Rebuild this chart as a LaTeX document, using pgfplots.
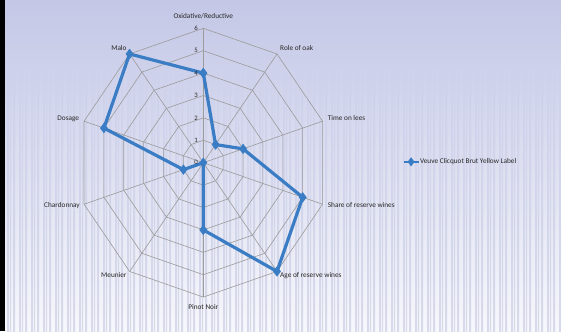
\documentclass[border=0pt]{standalone}
\usepackage{fontspec}
\setmainfont{Carlito}
\usepackage{pgfplots}
\pgfplotsset{compat=1.18}
\definecolor{bgtop}{RGB}{196,199,230}
\definecolor{bgmid}{RGB}{222,224,241}
\definecolor{bgbot}{RGB}{247,248,252}
\definecolor{stripetop}{RGB}{206,209,235}
\definecolor{stripe}{RGB}{214,218,234}
\definecolor{series}{RGB}{58,125,196}
\definecolor{gridc}{RGB}{155,155,155}
\definecolor{txt}{RGB}{40,40,40}
\begin{document}
\begin{tikzpicture}[x=1bp,y=1bp]
\useasboundingbox (0,0) rectangle (561,331);
\shade[top color=bgtop, middle color=bgmid, bottom color=bgbot] (0,0) rectangle (561,331);
\foreach \x in {7,13,...,560} {\shade[top color=stripetop, bottom color=stripe] (\x,0) rectangle ++(2,266);}
\foreach \x in {10,22,...,560} {\shade[top color=stripetop, bottom color=stripe] (\x,0) rectangle ++(1,266);}
\fill[black] (0,0) rectangle (5,331);
\begin{axis}[at={(203.3bp,168.3bp)}, anchor=center,
  x=20.9bp, y=22.4bp,
  xmin=-6.5, xmax=6.5, ymin=-6.5, ymax=6.5,
  hide axis, clip=false,
  legend style={at={(1.232,0.503)}, anchor=west, draw=none, fill=none,
    inner sep=0pt, font=\fontsize{7.3}{8.5}\selectfont, text=txt,
    nodes={inner sep=0.3bp}},
  legend cell align=left,
  legend image code/.code={\draw[mark repeat=2, mark phase=2, line width=2.4bp] plot coordinates {(0bp,0bp)(7.5bp,0bp)(15bp,0bp)};},
]
\pgfplotsinvokeforeach{1,2,3,4,5,6}{
  \addplot[gridc, line width=0.6bp, data cs=polar, forget plot] coordinates {(90,#1)(54,#1)(18,#1)(-18,#1)(-54,#1)(-90,#1)(-126,#1)(-162,#1)(162,#1)(126,#1)(90,#1)};
}
\pgfplotsinvokeforeach{90,54,18,-18,-54,-90,-126,-162,162,126}{
  \addplot[gridc, line width=0.6bp, data cs=polar, forget plot] coordinates {(#1,0)(#1,6)};
}
\addplot[series, line width=3.2bp, mark=diamond*, mark size=2.6bp, mark options={solid, fill=series}, data cs=polar]
  coordinates {(90,4) (54,1) (18,2) (-18,5) (-54,6) (-90,3) (-126,0) (-162,1) (162,5) (126,6) (90,4)};
\addlegendentry{Veuve Clicquot Brut Yellow Label}
\foreach \k in {0,...,6} {
  \edef\tmp{\noexpand\node[anchor=east, inner sep=0pt, font=\noexpand\fontsize{6.8}{8}\noexpand\selectfont, text=txt] at (axis cs:-0.25,\k) {\k};}
  \tmp
}
\end{axis}
\begin{scope}[every node/.style={inner sep=0pt, font=\fontsize{7.3}{8.5}\selectfont, text=txt}]
\node[anchor=center] at (203.3,314.7) {Oxidative/Reductive};
\node[anchor=west] at (280,282.7) {Role of oak};
\node[anchor=west] at (327.7,212.7) {Time on lees};
\node[anchor=west] at (327.7,125.7) {Share of reserve wines};
\node[anchor=west] at (280,55.7) {Age of reserve wines};
\node[anchor=center] at (203.3,23.7) {Pinot Noir};
\node[anchor=east] at (126.7,55.7) {Meunier};
\node[anchor=east] at (80,125.7) {Chardonnay};
\node[anchor=east] at (79.3,212.7) {Dosage};
\node[anchor=east] at (126.7,282.7) {Malo};
\end{scope}
\end{tikzpicture}
\end{document}
